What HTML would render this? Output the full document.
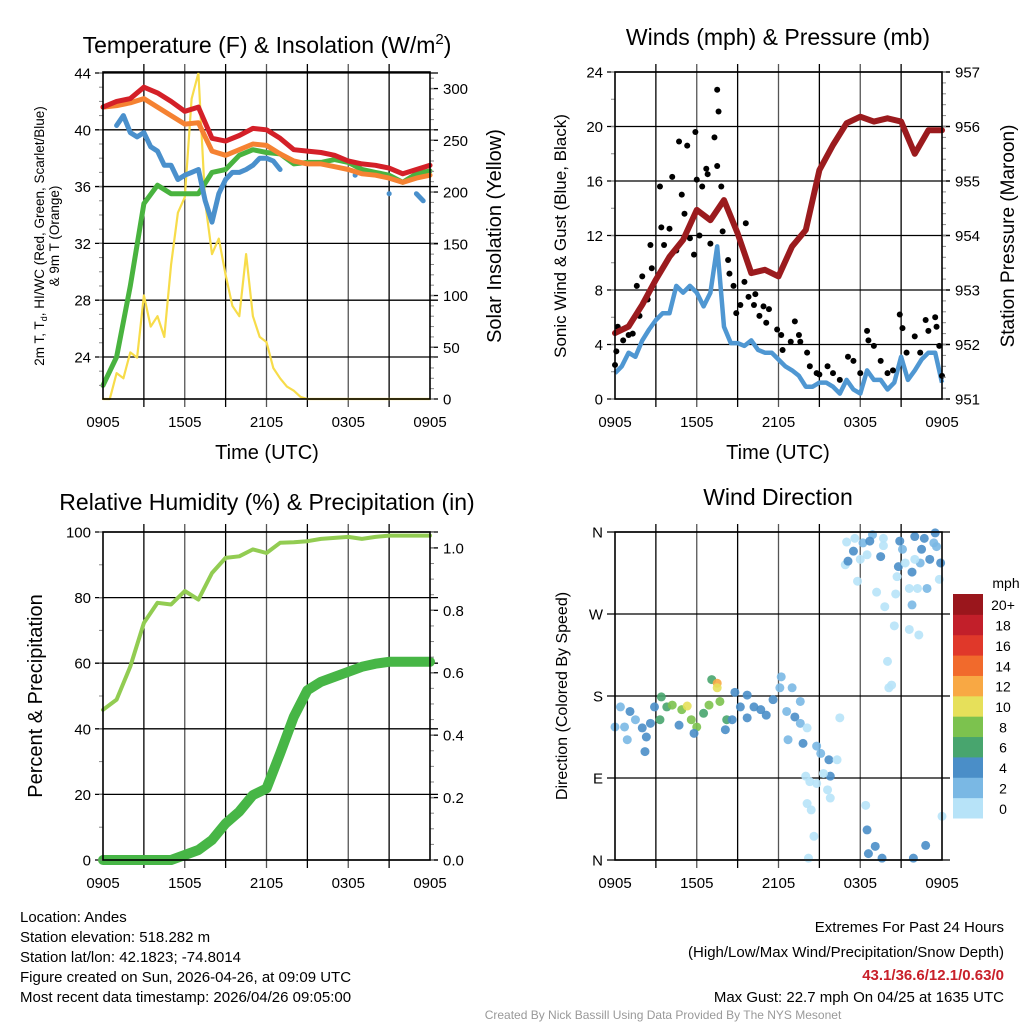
<!DOCTYPE html>
<html><head><meta charset="utf-8"><style>
html,body{margin:0;padding:0;background:#fff;}
svg{display:block;font-family:"Liberation Sans",sans-serif;}
</style></head><body>
<svg id="fig" width="1024" height="1024" viewBox="0 0 1024 1024" xmlns="http://www.w3.org/2000/svg">
<g id="layer-grid"></g><g id="layer-data"></g><g id="layer-axes"></g>
<text x="267" y="53" font-size="23" text-anchor="middle">Temperature (F) &amp; Insolation (W/m<tspan dy="-9" font-size="15">2</tspan><tspan dy="9">)</tspan></text>
<text x="778" y="45" font-size="23" text-anchor="middle">Winds (mph) &amp; Pressure (mb)</text>
<text x="267" y="510" font-size="23" text-anchor="middle">Relative Humidity (%) &amp; Precipitation (in)</text>
<text x="778" y="505" font-size="23" text-anchor="middle">Wind Direction</text>
<text x="267" y="459" font-size="20" text-anchor="middle">Time (UTC)</text>
<text x="778" y="459" font-size="20" text-anchor="middle">Time (UTC)</text>
<g transform="translate(44,236) rotate(-90)"><text x="0" y="0" font-size="13.5" text-anchor="middle">2m T, T<tspan font-size="9" dy="3">d</tspan><tspan dy="-3">, HI/WC (Red, Green, Scarlet/Blue)</tspan></text><text x="0" y="15" font-size="13.5" text-anchor="middle">&amp; 9m T (Orange)</text></g>
<text transform="translate(501,236) rotate(-90)" font-size="20" text-anchor="middle">Solar Insolation (Yellow)</text>
<text transform="translate(566,236) rotate(-90)" font-size="17" text-anchor="middle">Sonic Wind &amp; Gust (Blue, Black)</text>
<text transform="translate(1014,236) rotate(-90)" font-size="19" text-anchor="middle">Station Pressure (Maroon)</text>
<text transform="translate(42,696) rotate(-90)" font-size="20" text-anchor="middle">Percent &amp; Precipitation</text>
<text transform="translate(567,696) rotate(-90)" font-size="16" text-anchor="middle">Direction (Colored By Speed)</text>
<g font-size="15">
<text x="20" y="922">Location: Andes</text>
<text x="20" y="942">Station elevation: 518.282 m</text>
<text x="20" y="962">Station lat/lon: 42.1823; -74.8014</text>
<text x="20" y="982">Figure created on Sun, 2026-04-26, at 09:09 UTC</text>
<text x="20" y="1002">Most recent data timestamp: 2026/04/26 09:05:00</text>
</g>
<g font-size="15" text-anchor="end">
<text x="1004" y="932">Extremes For Past 24 Hours</text>
<text x="1004" y="957">(High/Low/Max Wind/Precipitation/Snow Depth)</text>
<text x="1004" y="980" fill="#c8202a" font-weight="bold">43.1/36.6/12.1/0.63/0</text>
<text x="1004" y="1002">Max Gust: 22.7 mph On 04/25 at 1635 UTC</text>
</g>
<text x="663" y="1019" font-size="12" fill="#999" text-anchor="middle">Created By Nick Bassill Using Data Provided By The NYS Mesonet</text>
</svg>
<script>
// ---- data (hours since 0905 UTC) ----
const xTickLabels = ["0905","1505","2105","0305","0905"];
const tempRed = [41.6,42.0,42.2,43.0,42.6,42.0,41.3,41.6,39.4,39.2,39.6,40.1,40.0,39.4,38.6,38.5,38.4,38.2,37.8,37.6,37.5,37.3,36.9,37.2,37.5];
const tempOrange = [41.6,41.7,41.9,42.2,41.6,41.0,40.4,40.5,38.5,38.2,38.6,39.0,38.9,38.3,37.8,37.6,37.6,37.4,37.2,36.9,36.8,36.6,36.3,36.6,36.8];
const tempGreen = [22.0,24.0,29.0,34.8,36.1,35.5,35.5,35.5,37.0,37.2,38.2,38.6,38.4,38.3,37.6,37.7,37.7,37.9,37.7,37.2,37.0,36.8,36.3,36.9,37.1];
const tempBlue = [null,null,40.3,41.0,39.8,39.5,39.8,38.8,38.5,37.5,37.5,36.5,36.8,37.0,37.2,35.0,33.5,35.5,36.5,37.0,37.0,37.2,37.5,38.0,38.0,37.8,37.2,null,null,null,null,null,null,null,null,null,null,36.8,null,null,null,null,35.5,null,null,null,35.5,35.0,null];
const insolation = [0,0,25,20,45,40,100,70,80,60,130,180,195,290,315,190,140,155,120,90,80,140,80,60,55,30,20,12,8,2,0,0,0,0,0,0,0,0,0,0,0,0,0,0,0,0,0,0,0];
const tempTicks = [24,28,32,36,40,44];
const insolTicks = [0,50,100,150,200,250,300];

const pressure = [952.21,952.33,952.73,953.19,953.61,953.92,954.47,954.28,954.65,954.04,953.31,953.37,953.25,953.80,954.10,955.20,955.66,956.06,956.18,956.09,956.15,956.09,955.50,955.93,955.93];
const windSpeed = [1.9,2.4,3.4,3.1,4.3,5.1,5.8,6.3,6.3,8.3,7.8,8.3,7.8,6.8,7.8,11.2,5.3,4.1,4.1,3.9,4.3,3.6,3.4,3.4,2.9,2.4,2.1,1.7,0.9,0.9,1.2,1.2,0.9,0.4,1.4,0.7,0.4,2.1,1.4,1.4,0.7,1.2,3.1,1.4,2.1,2.9,3.4,3.4,1.2];
const gustTimes = [0,0.1,0.2,0.6,1.0,1.3,1.6,1.8,2.0,2.4,2.6,2.7,3.3,3.4,3.6,4.0,4.2,4.5,4.7,4.9,5.1,5.3,5.5,5.8,5.9,6.0,6.2,6.4,6.7,6.8,7.0,7.3,7.5,7.6,7.5,7.8,7.9,8.3,8.4,8.7,8.9,9.2,9.5,9.6,9.8,10.2,10.3,10.6,10.9,11.1,11.3,11.9,12.2,12.3,12.9,13.2,13.5,13.6,14.1,14.3,14.8,15.0,15.6,16.0,16.5,17.1,17.5,18.0,18.5,18.6,19.0,19.5,20.0,20.4,20.9,21.1,21.4,22.0,22.4,22.8,23.0,23.5,23.6,23.8,24.0];
const gustValues = [2.5,3.5,5.3,4.3,4.7,4.8,8.3,6.1,9.0,7.3,11.3,9.6,15.6,12.6,11.3,12.5,16.3,10.9,18.9,15.0,13.6,18.6,11.8,10.6,19.6,16.1,12.0,15.6,16.9,16.5,11.4,19.2,22.7,21.1,17.1,15.6,12.3,10.2,9.2,8.3,6.3,6.9,8.6,12.9,7.5,6.9,7.7,6.1,6.8,5.6,6.6,5.1,4.7,3.6,4.2,5.7,4.7,4.2,3.4,2.4,1.9,1.8,2.4,1.9,1.4,3.1,2.8,1.9,5.0,4.3,3.9,2.8,1.9,2.1,6.2,5.2,3.4,4.6,3.4,5.8,5.0,6.0,5.3,3.9,1.7];
const windTicks = [0,4,8,12,16,20,24];
const pressureTicks = [951,952,953,954,955,956,957];

const rhValues = [45.8,48.9,59.0,72.3,78.4,77.9,82.0,79.4,87.5,92.1,92.6,94.7,93.6,96.7,96.9,97.2,97.9,98.2,98.5,97.9,98.5,98.9,98.9,98.9,98.9];
const precipValues = [0,0,0,0,0,0,0.016,0.032,0.064,0.117,0.155,0.208,0.229,0.341,0.459,0.544,0.571,0.587,0.603,0.619,0.629,0.635,0.635,0.635,0.635];
const rhTicks = [0,20,40,60,80,100];
const precipTicks = [0,0.2,0.4,0.6,0.8,1.0];

const dirTimes = [0.0,0.4,0.7,1.1,1.5,0.9,2.0,2.3,2.2,2.6,2.9,3.4,3.3,3.8,4.2,4.7,4.9,5.3,5.6,6.0,5.8,6.5,6.9,7.1,7.5,7.5,7.7,8.2,8.1,8.6,8.8,9.2,9.7,9.7,10.2,10.7,11.1,11.6,12.2,12.1,12.6,13.0,13.2,13.6,13.6,12.7,13.8,14.1,14.8,15.1,15.7,15.8,16.3,16.5,14.0,14.3,14.8,15.3,15.6,15.8,14.1,14.4,14.6,14.2,18.4,18.5,18.6,19.1,19.6,21.9,22.8,24.0,20.0,20.1,20.3,20.5,21.6,22.3,19.8,19.2,20.6,21.8,21.6,22.2,22.9,17.8,16.9,17.1,17.5,17.0,17.6,18.2,18.9,18.7,18.5,19.5,19.7,19.7,20.8,20.7,20.9,21.1,21.3,21.8,22.0,22.4,22.5,22.7,23.1,23.4,23.5,23.6,23.9,23.8,22.0,18.0];
const dirValues = [146,168,146,163,154,132,145,135,119,150,168,179,154,168,170,148,165,169,154,146,139,161,170,198,194,189,174,154,143,154,184,168,181,156,168,165,159,176,201,189,163,189,157,174,150,132,128,145,125,117,110,92,110,156,92,86,84,95,77,68,62,55,26,2,60,33,7,15,2,2,16,48,218,189,192,257,253,247,278,294,292,280,298,298,298,306,324,328,339,349,353,348,357,350,335,333,353,345,322,311,350,341,326,316,355,326,341,353,330,348,359,344,326,308,330,330];
const dirSpeeds = [2.5,2.5,2.5,4,2.5,2.5,4,4,4,4,4,6.5,6.5,6.5,8.5,4,8.5,10.5,8.5,8.5,4,6.5,8.5,6.5,12.5,10.5,8.5,6.5,4,4,4,4,4,4,4,4,4,4,2.5,2.5,2.5,2.5,4,2.5,2.5,2.5,4,1,2.5,2.5,4,4,1,1,1,1,1,1,1,1,1,1,1,1,1,4,4,4,4,4,4,1,1,1,1,1,1,1,1,1,1,2.5,1,1,2.5,1,1,4,4,1,1,2.5,2.5,4,1,4,1,1,4,1,4,2.5,1,4,4,2.5,4,4,4,2.5,4,2.5,4,1,1,1];
const dirTickLabels = ["N","E","S","W","N"];
const dirTickValues = [0,90,180,270,360];
const cbLabels = ["0","2","4","6","8","10","12","14","16","18","20+"];
const cbColors = ["#b7e3f8","#7ab8e4","#4a8ec8","#48a56e","#7cc24e","#e6e05a","#f8a844","#f16a2c","#e0382a","#c21f2a","#9a161c"];

// ---- helpers ----
const NS = "http://www.w3.org/2000/svg";
const gGrid = document.getElementById('layer-grid');
const gData = document.getElementById('layer-data');
const gAxes = document.getElementById('layer-axes');
function mk(tag, attrs, parent){ const e=document.createElementNS(NS,tag); for(const k in attrs) e.setAttribute(k,attrs[k]); parent.appendChild(e); return e; }
function lin(d0,d1,r0,r1){ return v => r0 + (v-d0)/(d1-d0)*(r1-r0); }
function pathFrom(ts, vs, xs, ys){
  let d="", pen=false;
  for(let i=0;i<vs.length;i++){
    if(vs[i]===null){pen=false;continue;}
    const x=xs(ts[i]).toFixed(1), y=ys(vs[i]).toFixed(1);
    const isolated = (i===0||vs[i-1]===null) && (i===vs.length-1||vs[i+1]===null);
    if(isolated){ d += "M"+x+","+y+"l0.1,0"; pen=false; continue; }
    d += (pen?"L":"M") + x + "," + y;
    pen=true;
  }
  return d;
}
function seq(n, step){ const a=[]; for(let i=0;i<n;i++) a.push(i*step); return a; }

function drawFrame(p, name, leftTicks, leftLabels, leftScale, rightTicks, rightLabels, rightScale, minorL, minorR){
  for(let k=1;k<8;k++){
    const x = p.x(k*3);
    const l = mk('line',{x1:x,x2:x,y1:p.y0-8,y2:p.y1+8,stroke:k%2?'#000':'#555','stroke-width':1.3},gGrid);
    
    
  }
  leftTicks.forEach((v,i)=>{
    const y = leftScale(v);
    const l = mk('line',{x1:p.x0-8,x2:p.x1+8,y1:y,y2:y,stroke:'#000','stroke-width':1.3},gGrid);
    
    
    const t = mk('text',{x:p.x0-12,y:y+5.5,'font-size':15,'text-anchor':'end'},gAxes);
    t.textContent = leftLabels[i];
    
    
  });
  (minorL||[]).forEach(v=>{ const y=leftScale(v); mk('line',{x1:p.x0-4,x2:p.x0,y1:y,y2:y,stroke:'#888','stroke-width':1},gAxes); });
  if(rightTicks){
    rightTicks.forEach((v,i)=>{
      const y = rightScale(v);
      mk('line',{x1:p.x1,x2:p.x1+8,y1:y,y2:y,stroke:'#000','stroke-width':1.3},gAxes);
      const t = mk('text',{x:p.x1+13,y:y+5.5,'font-size':15},gAxes);
      t.textContent = rightLabels[i];
      
      
    });
    (minorR||[]).forEach(v=>{ const y=rightScale(v); mk('line',{x1:p.x1,x2:p.x1+4,y1:y,y2:y,stroke:'#888','stroke-width':1},gAxes); });
  }
  xTickLabels.forEach((lab,i)=>{
    const t = mk('text',{x:p.x(i*6),y:p.y1+28,'font-size':15,'text-anchor':'middle'},gAxes);
    t.textContent = lab;
    
    
  });
  const r = mk('rect',{x:p.x0,y:p.y0,width:p.x1-p.x0,height:p.y1-p.y0,fill:'none',stroke:'#000','stroke-width':1.6},gAxes);
  
  
}
function minorRange(a,b,s){ const r=[]; for(let v=a; v<=b+1e-9; v+=s) r.push(+v.toFixed(4)); return r; }

const hourly = seq(25,1), half = seq(49,0.5);

// ---- Panel 1: temperature ----
const P1 = {x0:103,x1:430,y0:72,y1:399}; P1.x = lin(0,24,P1.x0,P1.x1);
const yT = lin(21.04,44.07,P1.y1,P1.y0), yI = lin(0,316,P1.y1,P1.y0);
drawFrame(P1,'temperature',tempTicks,tempTicks.map(String),yT,insolTicks,insolTicks.map(String),yI,minorRange(22,44,1),minorRange(0,310,10));
[[insolation,half,'#f7dc4a',2.2,'insolation-line'],[tempGreen,hourly,'#49b33f',5,'dewpoint-line'],[tempBlue,half,'#4a90cc',5,'windchill-line'],[tempOrange,hourly,'#f58232',5,'temp-9m-line'],[tempRed,hourly,'#d42028',5,'temp-2m-line']].forEach(s=>{
  const sc = s[0]===insolation ? yI : yT;
  const e = mk('path',{d:pathFrom(s[1],s[0],P1.x,sc),fill:'none',stroke:s[2],'stroke-width':s[3],'stroke-linejoin':'round','stroke-linecap':'round'},gData);
  
  
});

// ---- Panel 2: winds & pressure ----
const P2 = {x0:615,x1:942,y0:72,y1:399}; P2.x = lin(0,24,P2.x0,P2.x1);
const yW = lin(0,24,P2.y1,P2.y0), yP = lin(951,957,P2.y1,P2.y0);
drawFrame(P2,'winds',windTicks,windTicks.map(String),yW,pressureTicks,pressureTicks.map(String),yP,minorRange(0,24,2),minorRange(951,957,0.2));
{
  const e = mk('path',{d:pathFrom(half,windSpeed,P2.x,yW),fill:'none',stroke:'#4f97d2','stroke-width':4.5,'stroke-linejoin':'round'},gData);
  
  
  gustTimes.forEach((t,i)=>{
    const c = mk('circle',{cx:P2.x(t),cy:yW(gustValues[i]),r:3,fill:'#000'},gData);
    
    
  });
  const p = mk('path',{d:pathFrom(hourly,pressure,P2.x,yP),fill:'none',stroke:'#9b1b1e','stroke-width':6,'stroke-linejoin':'round','stroke-linecap':'round'},gData);
  
  
}

// ---- Panel 3: RH & precip ----
const P3 = {x0:103,x1:430,y0:532,y1:860}; P3.x = lin(0,24,P3.x0,P3.x1);
const yRH = lin(0,100,P3.y1,P3.y0), yPr = lin(0,1.051,P3.y1,P3.y0);
drawFrame(P3,'humidity',rhTicks,rhTicks.map(String),yRH,precipTicks,precipTicks.map(v=>v.toFixed(1)),yPr,minorRange(0,100,10),minorRange(0,1.05,0.05));
{
  const a = mk('path',{d:pathFrom(hourly,rhValues,P3.x,yRH),fill:'none',stroke:'#92cc52','stroke-width':4,'stroke-linejoin':'round','stroke-linecap':'round'},gData);
  
  
  const b = mk('path',{d:pathFrom(hourly,precipValues,P3.x,yPr),fill:'none',stroke:'#47b646','stroke-width':10,'stroke-linejoin':'round','stroke-linecap':'round'},gData);
  
  
}

// ---- Panel 4: wind direction ----
const P4 = {x0:615,x1:942,y0:532,y1:860}; P4.x = lin(0,24,P4.x0,P4.x1);
const yD = lin(0,360,P4.y1,P4.y0);
drawFrame(P4,'direction',dirTickValues,dirTickLabels,yD,null,null,null,[],[]);
function speedColor(s){ let i=Math.floor(s/2); if(i>10)i=10; return cbColors[i]; }
dirTimes.forEach((t,i)=>{
  const c = mk('circle',{cx:P4.x(t),cy:yD(dirValues[i]),r:4.5,fill:speedColor(dirSpeeds[i]),'fill-opacity':0.9},gData);
  
  
});
const cbTop=594, cbBot=818, cbH=(cbBot-cbTop)/cbLabels.length;
cbLabels.forEach((lab,i)=>{
  const y = cbBot - (i+1)*cbH;
  const r = mk('rect',{x:953,y:y,width:30,height:cbH+0.5,fill:cbColors[i]},gAxes);
  
  
  const t = mk('text',{x:1003,y:y+cbH/2+6,'font-size':14,'text-anchor':'middle'},gAxes);
  t.textContent = lab;
  
  
});
{
  const t = mk('text',{x:1006,y:588,'font-size':14,'text-anchor':'middle'},gAxes);
  t.textContent = 'mph';
  
  
}
</script>
</body></html>
